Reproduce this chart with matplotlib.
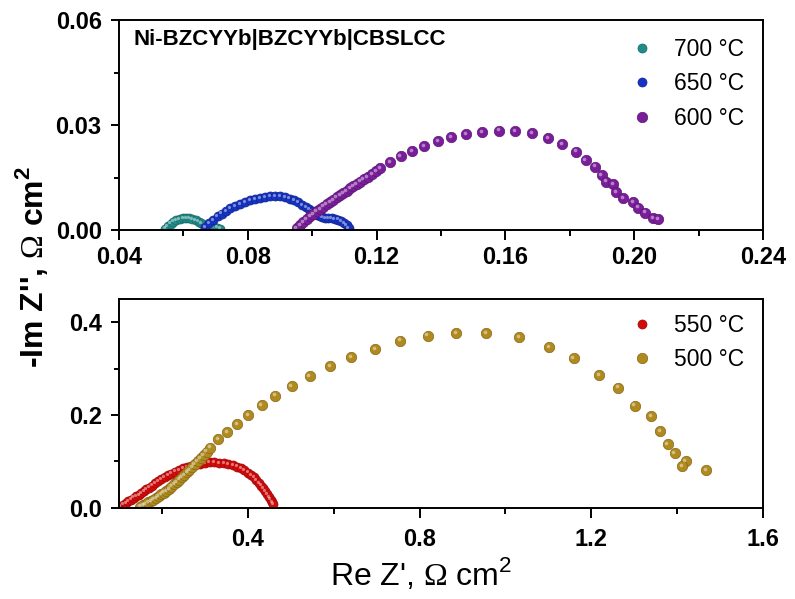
import matplotlib
matplotlib.use("Agg")
import matplotlib.pyplot as plt
from matplotlib.ticker import MultipleLocator, FormatStrFormatter
from matplotlib.transforms import offset_copy

plt.rcParams["font.family"] = ["Liberation Sans", "DejaVu Sans"]
plt.rcParams["mathtext.fontset"] = "custom"
plt.rcParams["mathtext.rm"] = "Liberation Serif"
plt.rcParams["mathtext.sf"] = "Liberation Sans"
plt.rcParams["mathtext.bf"] = "Liberation Sans:bold"

# ---- impedance spectra (Re Z', -Im Z''), ohm cm2 ----
re_700 = [0.0543, 0.0551, 0.0560, 0.0569, 0.0578, 0.0588, 0.0598, 0.0608, 0.0618, 0.0628,
          0.0638, 0.0647, 0.0656, 0.0665, 0.0674, 0.0684, 0.0694, 0.0704, 0.0713]
im_700 = [0.0004, 0.0011, 0.0018, 0.0024, 0.0029, 0.0032, 0.0034, 0.0035, 0.0034, 0.0032,
          0.0028, 0.0024, 0.0019, 0.0015, 0.0012, 0.0010, 0.0009, 0.0007, 0.0004]

re_650 = [0.0667, 0.0680, 0.0693, 0.0706, 0.0719, 0.0732, 0.0745, 0.0760, 0.0776, 0.0791,
          0.0807, 0.0822, 0.0838, 0.0853, 0.0869, 0.0884, 0.0900, 0.0915, 0.0930, 0.0944,
          0.0957, 0.0969, 0.0980, 0.0990, 0.0999, 0.1007, 0.1015, 0.1023, 0.1031, 0.1040,
          0.1050, 0.1060, 0.1070, 0.1080, 0.1090, 0.1099, 0.1107, 0.1113]
im_650 = [0.0008, 0.0019, 0.0029, 0.0039, 0.0047, 0.0055, 0.0062, 0.0069, 0.0075, 0.0080,
          0.0085, 0.0089, 0.0092, 0.0095, 0.0096, 0.0097, 0.0096, 0.0094, 0.0090, 0.0085,
          0.0079, 0.0072, 0.0066, 0.0060, 0.0054, 0.0048, 0.0043, 0.0039, 0.0036, 0.0034,
          0.0033, 0.0033, 0.0032, 0.0030, 0.0026, 0.0020, 0.0013, 0.0005]

re_600 = [0.0952, 0.0962, 0.0972, 0.0983, 0.0993, 0.1004, 0.1014, 0.1024, 0.1035, 0.1045,
          0.1055, 0.1066, 0.1076, 0.1086, 0.1097, 0.1107, 0.1117, 0.1128, 0.1138, 0.1148,
          0.1160, 0.1172, 0.1185, 0.1198, 0.1211, 0.1242, 0.1275, 0.1310, 0.1348, 0.1390,
          0.1431, 0.1478, 0.1528, 0.1580, 0.1630, 0.1683, 0.1732, 0.1777, 0.1819, 0.1849,
          0.1878, 0.1899, 0.1914, 0.1935, 0.1943, 0.1966, 0.1997, 0.2013, 0.2034, 0.2059,
          0.2075]
im_600 = [0.0005, 0.0014, 0.0023, 0.0031, 0.0039, 0.0046, 0.0053, 0.0060, 0.0067, 0.0073,
          0.0080, 0.0086, 0.0093, 0.0099, 0.0106, 0.0112, 0.0119, 0.0125, 0.0131, 0.0138,
          0.0145, 0.0152, 0.0160, 0.0168, 0.0176, 0.0195, 0.0211, 0.0226, 0.0240, 0.0253,
          0.0265, 0.0274, 0.0280, 0.0284, 0.0283, 0.0276, 0.0263, 0.0246, 0.0224, 0.0200,
          0.0181, 0.0157, 0.0138, 0.0131, 0.0108, 0.0091, 0.0079, 0.0064, 0.0050, 0.0035,
          0.0032]

re_550 = [0.104, 0.110, 0.116, 0.122, 0.128, 0.134, 0.140, 0.146, 0.152, 0.158,
          0.164, 0.170, 0.177, 0.184, 0.191, 0.198, 0.206, 0.214, 0.222, 0.231,
          0.240, 0.249, 0.258, 0.268, 0.278, 0.289, 0.300, 0.311, 0.322, 0.333,
          0.344, 0.355, 0.365, 0.375, 0.384, 0.392, 0.400, 0.407, 0.414, 0.420,
          0.426, 0.431, 0.436, 0.441, 0.445, 0.449, 0.453, 0.456, 0.459]
im_550 = [0.003, 0.007, 0.011, 0.015, 0.018, 0.022, 0.025, 0.028, 0.032, 0.036,
          0.040, 0.044, 0.048, 0.053, 0.057, 0.062, 0.066, 0.070, 0.074, 0.078,
          0.082, 0.085, 0.088, 0.091, 0.093, 0.095, 0.097, 0.098, 0.098, 0.097,
          0.096, 0.094, 0.092, 0.089, 0.085, 0.081, 0.076, 0.071, 0.066, 0.060,
          0.054, 0.048, 0.042, 0.036, 0.030, 0.024, 0.018, 0.013, 0.008]

re_500 = [0.150, 0.156, 0.162, 0.168, 0.174, 0.180, 0.186, 0.192, 0.198, 0.204,
          0.210, 0.216, 0.222, 0.228, 0.234, 0.240, 0.246, 0.252, 0.258, 0.264,
          0.270, 0.276, 0.283, 0.290, 0.297, 0.304, 0.312, 0.331, 0.352, 0.375,
          0.401, 0.432, 0.464, 0.502, 0.544, 0.591, 0.640, 0.696, 0.754, 0.819,
          0.885, 0.955, 1.032, 1.102, 1.159, 1.218, 1.263, 1.301, 1.339, 1.360,
          1.378, 1.394, 1.420, 1.412, 1.467]
im_500 = [0.003, 0.006, 0.009, 0.012, 0.015, 0.018, 0.021, 0.025, 0.029, 0.033,
          0.037, 0.041, 0.046, 0.051, 0.056, 0.061, 0.066, 0.071, 0.077, 0.082,
          0.088, 0.094, 0.100, 0.107, 0.114, 0.121, 0.130, 0.148, 0.163, 0.181,
          0.200, 0.221, 0.242, 0.263, 0.284, 0.305, 0.325, 0.342, 0.360, 0.371,
          0.377, 0.376, 0.368, 0.346, 0.323, 0.286, 0.259, 0.220, 0.198, 0.166,
          0.137, 0.118, 0.101, 0.090, 0.082]

top_series = [
    (re_700, im_700, "#1f8c89", "700 °C", 6.5),
    (re_650, im_650, "#1633c2", "650 °C", 6.5),
    (re_600, im_600, "#7a1d9a", "600 °C", 7.5),
]
bottom_series = [
    (re_550, im_550, "#d40a0a", "550 °C", 6.5),
    (re_500, im_500, "#b08a1e", "500 °C", 7.5),
]


def shade(c, f):
    c = matplotlib.colors.to_rgb(c)
    return tuple(v * f for v in c)


def draw_balls(ax, series):
    # coloured sphere plus a small light spot up-left for the 3D look
    glint = offset_copy(ax.transData, fig=ax.figure, x=-0.9, y=0.9, units="points")
    for x, y, col, lab, ms in series:
        ax.plot(x, y, "o", ms=ms, color=col, mec=shade(col, 0.75), mew=0.5,
                ls="none", label=lab)
        ax.plot(x, y, "o", ms=ms * 0.35, color="white", alpha=0.45, mew=0,
                ls="none", transform=glint)


def style_axes(ax, xpad):
    for s in ax.spines.values():
        s.set_linewidth(1.4)
    ax.tick_params(axis="both", which="both", direction="out", top=False, right=False,
                   width=1.4, labelsize=17)
    ax.tick_params(axis="x", which="major", length=7.5, pad=xpad)
    ax.tick_params(axis="x", which="minor", length=4)
    ax.tick_params(axis="y", which="major", length=5.5, pad=7)
    ax.tick_params(axis="y", which="minor", length=3.5)
    for t in ax.get_xticklabels() + ax.get_yticklabels():
        t.set_fontweight("bold")


fig = plt.figure(figsize=(7.95, 5.99), dpi=100)
ax1 = fig.add_axes([0.1497, 0.616, 0.810, 0.3506])
ax2 = fig.add_axes([0.1497, 0.152, 0.810, 0.349])

# upper panel: 600-700 C
draw_balls(ax1, top_series)
ax1.set_xlim(0.04, 0.24)
ax1.set_ylim(0.0, 0.06)
ax1.xaxis.set_major_locator(MultipleLocator(0.04))
ax1.xaxis.set_minor_locator(MultipleLocator(0.02))
ax1.yaxis.set_major_locator(MultipleLocator(0.03))
ax1.yaxis.set_minor_locator(MultipleLocator(0.015))
ax1.xaxis.set_major_formatter(FormatStrFormatter("%.2f"))
ax1.yaxis.set_major_formatter(FormatStrFormatter("%.2f"))
style_axes(ax1, 4.0)
ax1.text(0.022, 0.905, "Ni-BZCYYb|BZCYYb|CBSLCC", transform=ax1.transAxes,
         fontsize=16, fontweight="bold", ha="left", va="center")
ax1.legend(loc="upper left", bbox_to_anchor=(0.795, 0.915), frameon=False,
           fontsize=16.5, numpoints=1, handlelength=1.0, handletextpad=0.9,
           labelspacing=0.5, borderaxespad=0, borderpad=0)

# lower panel: 500-550 C
draw_balls(ax2, bottom_series)
ax2.set_xlim(0.1, 1.6)
ax2.set_ylim(0.0, 0.45)
ax2.xaxis.set_major_locator(MultipleLocator(0.4))
ax2.xaxis.set_minor_locator(MultipleLocator(0.2))
ax2.yaxis.set_major_locator(MultipleLocator(0.2))
ax2.yaxis.set_minor_locator(MultipleLocator(0.1))
ax2.xaxis.set_major_formatter(FormatStrFormatter("%.1f"))
ax2.yaxis.set_major_formatter(FormatStrFormatter("%.1f"))
style_axes(ax2, 7.0)
ax2.legend(loc="upper left", bbox_to_anchor=(0.795, 0.93), frameon=False,
           fontsize=16.5, numpoints=1, handlelength=1.0, handletextpad=0.9,
           labelspacing=0.5, borderaxespad=0, borderpad=0)

fig.text(0.530, 0.0234, r"Re Z', $\Omega$ cm$^{\mathsf{2}}$", fontsize=23,
         ha="center", va="baseline")
fig.text(0.040, 0.555, r"-Im Z'', $\Omega$ cm$^{\mathbf{2}}$", fontsize=23,
         fontweight="bold", rotation=90, ha="center", va="center")

fig.savefig("out.png", dpi=100)
